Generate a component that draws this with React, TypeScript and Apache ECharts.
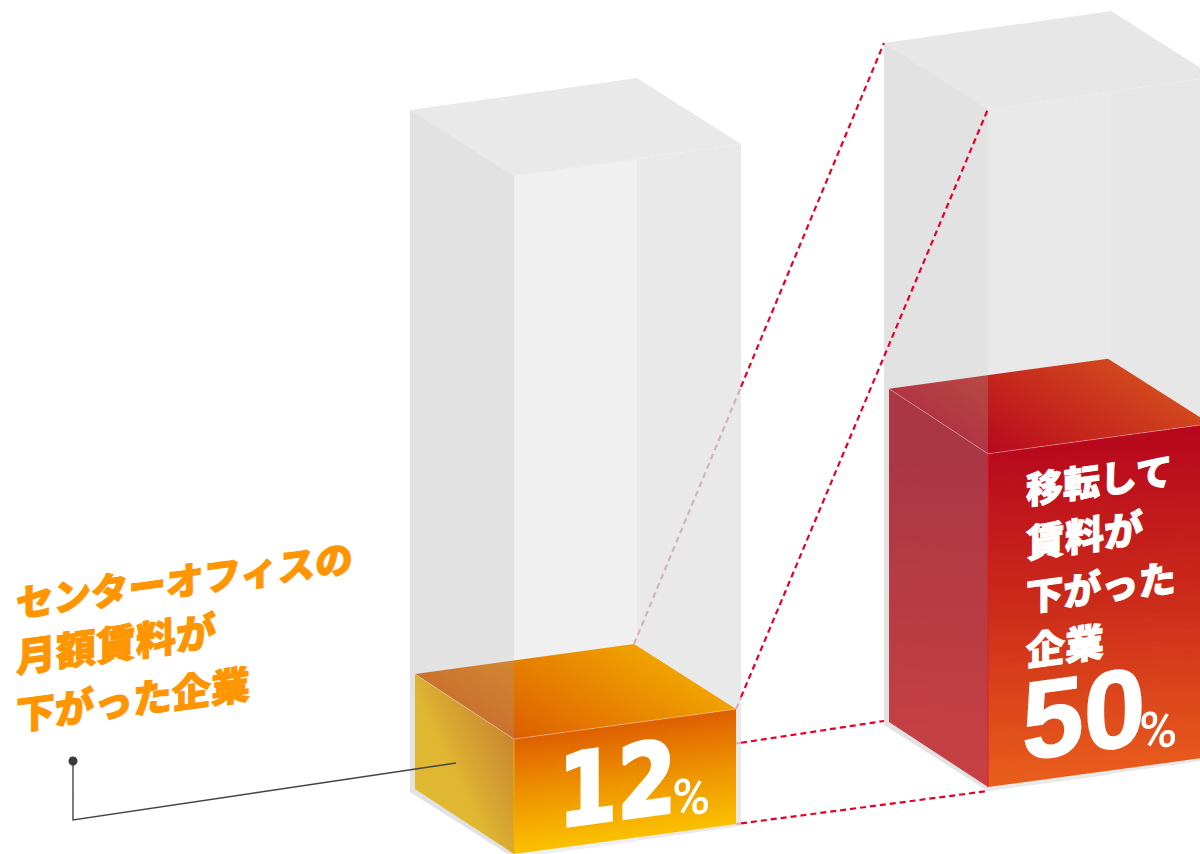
import React, { useEffect, useRef } from "react";
import * as echarts from "echarts";

const categories = ["センターオフィス", "移転"];
const shareValues = [12, 50];
const centerLabelLines = ["センターオフィスの", "月額賃料が", "下がった企業"];
const relocationLabelLines = ["移転して", "賃料が", "下がった", "企業"];
const axisMin = -8;
const axisMax = 110;

// Prism projection, in pixels from a column's front edge.
const GLASS_LEFT = [-104, -66];
const GLASS_RIGHT = [227, -32];
const FILL_LEFT = [-99, -65];
const FILL_RIGHT = [222, -30];
const FILL_BACK = [120, -95];
const GLASS_FOOT = 4;
const SLOPE = 30 / 222;
const LIFT = [0, 67]; // the second column stands further back on the page

const OVERLAY = "rgba(160,160,160,0.3)";
const DASH_RED = "#e60028";
const DASH_PALE = "#d4b4bb";
const FONT_JP = '"Noto Sans CJK JP"';

const COLUMN_STYLES = [
  {
    glassTop: "#e9e9e9",
    glassRight: "#e9e9e9",
    glassCentre: "#f0f0f0",
    frontStops: ["#de5f00", "#ee9400", "#fbc200"],
    topStops: ["#dc5e00", "#f0a200"],
    leftStops: ["#fbc200", "#da7b00"],
    leftVector: [-54, 51, 10, 19],
    edge: "rgba(248,178,0,0.7)",
  },
  {
    glassTop: "#e7e7e7",
    glassRight: "#e7e7e7",
    glassCentre: "#e9e9e9",
    frontStops: ["#b8081d", "#cc2c1a", "#e85c1c"],
    topStops: ["#b8081d", "#d2481e"],
    leftStops: ["#b00a1e", "#da1a1e"],
    leftVector: [0, 0, -20, 334],
    edge: "rgba(226,28,32,0.8)",
  },
];

type Pt = number[];
const add = (p: Pt, d: Pt): Pt => [p[0] + d[0], p[1] + d[1]];

function geometry(api: any, index: number) {
  const lift = LIFT[index];
  const at = (v: number): Pt => {
    const p = api.coord([index, v]);
    return [p[0], p[1] - lift];
  };
  const base = at(axisMin);
  const level = at(shareValues[index]);
  const rim = at(axisMax);
  const foot = [base[0], base[1] + GLASS_FOOT];
  return { base, level, rim, foot };
}

function stops(colours: string[]) {
  return colours.map((color, i) => ({ offset: i / (colours.length - 1), color }));
}

function glide(x0: number, y0: number, x1: number, y1: number, colours: string[]) {
  return new echarts.graphic.LinearGradient(x0, y0, x1, y1, stops(colours), true as any);
}

function poly(points: Pt[], fill: any) {
  return { type: "polygon", shape: { points }, style: { fill } };
}

// Lays text on the prism's right-hand plane: widths stretch by `wide`, verticals stay
// vertical and horizontals climb with SLOPE. Elements only offer rotate and scale, so
// the shear is split into rotate-scale-rotate (singular value decomposition).
function planeText(text: string, x: number, y: number, font: string, fill: string, bold = 0, wide = 1) {
  const a = wide;
  const b = 0;
  const c = -SLOPE * wide;
  const d = 1;
  const E = (a + d) / 2;
  const F = (a - d) / 2;
  const G = (c + b) / 2;
  const H = (c - b) / 2;
  const Q = Math.hypot(E, H);
  const R = Math.hypot(F, G);
  const a1 = Math.atan2(G, F);
  const a2 = Math.atan2(H, E);
  return {
    type: "group",
    x,
    y,
    rotation: -(a2 + a1) / 2,
    scaleX: Q + R,
    scaleY: Q - R,
    children: [
      {
        type: "text",
        rotation: -(a2 - a1) / 2,
        style: { text, font, fill, stroke: bold ? fill : undefined, lineWidth: bold, textAlign: "left", textVerticalAlign: "middle" },
      },
    ],
  };
}

function renderColumn(_: any, api: any) {
  const index = api.value(0) as number;
  const style = COLUMN_STYLES[index];
  const { base, level, rim, foot } = geometry(api, index);
  const value = shareValues[index];

  const gL = add(rim, GLASS_LEFT);
  const gR = add(rim, GLASS_RIGHT);
  const gB = add(gL, GLASS_RIGHT);
  const fgL = add(foot, GLASS_LEFT);
  const fgR = add(foot, GLASS_RIGHT);
  const centreRun = GLASS_RIGHT[0] + GLASS_LEFT[0];
  const centreFoot = add(foot, [centreRun, -SLOPE * centreRun]);
  const centreRim = add(rim, [centreRun, -SLOPE * centreRun]);

  const fL = add(level, FILL_LEFT);
  const fR = add(level, FILL_RIGHT);
  const fB = add(level, FILL_BACK);
  const bL = add(base, FILL_LEFT);
  const bR = add(base, FILL_RIGHT);

  const lv = style.leftVector;
  const children: any[] = [
    poly([rim, gR, fgR, foot], style.glassRight),
    poly([rim, centreRim, centreFoot, foot], style.glassCentre),
    poly([gL, gB, gR, rim], style.glassTop),
    poly([level, fR, bR, base], glide(level[0] + 111, level[1] - 15, level[0] + 126, base[1] - 15, style.frontStops)),
    poly([fL, fB, fR, level], glide(level[0], level[1], level[0] + 77, level[1] - 122, style.topStops)),
    poly([fL, level, base, bL], glide(level[0] + lv[0], level[1] + lv[1], level[0] + lv[2], level[1] + lv[3], style.leftStops)),
    poly([gL, rim, foot, fgL], OVERLAY),
    { type: "polyline", shape: { points: [fL, level, fR] }, style: { fill: "none", stroke: "rgba(255,255,255,0.3)", lineWidth: 1 } },
    { type: "line", shape: { x1: level[0], y1: level[1], x2: base[0], y2: base[1] }, style: { stroke: style.edge, lineWidth: 1.2 } },
  ];

  if (index === 0) {
    children.push(
      planeText(String(value), 558, 793, '700 100px "DejaVu Sans"', "#fff", 3.5, 0.85),
      planeText("%", 672, 800, '500 52px Roboto', "#fff"),
    );
  } else {
    const rows = [488, 541, 595, 649];
    const sizes = [37, 39, 37.5, 39];
    relocationLabelLines.forEach((line, i) => {
      children.push(planeText(line, 1026, rows[i], `900 ${sizes[i]}px ${FONT_JP}`, "#fff", 1));
    });
    children.push(
      planeText(String(value), 1022, 722, '700 111px "Liberation Sans"', "#fff", 1.5),
      planeText("%", 1139, 733, '500 52px Roboto', "#fff"),
    );
  }
  return { type: "group", children };
}

// Dashed guides tying the small column's corners to the tall column.
function renderConnectors(_: any, api: any) {
  const a = geometry(api, 0);
  const b = geometry(api, 1);
  const backTop = add(a.level, FILL_BACK);
  const backFoot = add(a.base, FILL_BACK);
  const guides: Pt[][] = [
    [backTop, add(b.rim, GLASS_LEFT)],
    [add(a.level, FILL_RIGHT), b.rim],
    [backFoot, add(b.base, GLASS_LEFT)],
    [add(a.base, FILL_RIGHT), b.foot],
  ];
  const glassEdge = a.base[0] + GLASS_RIGHT[0];
  const children: any[] = [];
  const dashed = (from: Pt, to: Pt, stroke: string) => ({
    type: "line",
    shape: { x1: from[0], y1: from[1], x2: to[0], y2: to[1] },
    style: { stroke, lineWidth: 2.2, lineDash: [6, 4] },
  });
  guides.forEach(([from, to], i) => {
    const t = (glassEdge - from[0]) / (to[0] - from[0]);
    const split = [glassEdge, from[1] + t * (to[1] - from[1])];
    // The third guide's first corner is hidden, so it only shows from the fill's right edge.
    let start = from;
    if (i === 2) {
      const s = (a.base[0] + FILL_RIGHT[0] - from[0]) / (to[0] - from[0]);
      start = [a.base[0] + FILL_RIGHT[0], from[1] + s * (to[1] - from[1])];
    }
    children.push(dashed(start, split, DASH_PALE), dashed(split, to, DASH_RED));
  });
  return { type: "group", children };
}

export default function App() {
  const ref = useRef<HTMLDivElement>(null);
  useEffect(() => {
    document.body.style.margin = "0";
    const chart = echarts.init(ref.current!, undefined, { renderer: "svg" });
    const headlineSizes = [37.5, 40, 39];
    const headlineY = [601, 655, 713];
    chart.setOption({
      animation: false,
      backgroundColor: "#fff",
      grid: { left: 514, width: 474, top: 176, height: 678 },
      xAxis: { type: "category", boundaryGap: false, data: categories, show: false },
      yAxis: { type: "value", min: axisMin, max: axisMax, show: false },
      graphic: {
        elements: [
          ...centerLabelLines.map((line, i) =>
            planeText(line, 16, headlineY[i], `900 ${headlineSizes[i]}px ${FONT_JP}`, "#ff9500", 1),
          ),
          {
            type: "polyline",
            z: 100,
            shape: { points: [[73, 761], [73, 820], [456, 763]] },
            style: { fill: "none", stroke: "#444", lineWidth: 1.4 },
          },
          { type: "circle", z: 100, shape: { cx: 73, cy: 761, r: 4.5 }, style: { fill: "#3b3b3b" } },
        ],
      },
      series: [
        {
          type: "custom",
          silent: true,
          renderItem: renderColumn,
          encode: { x: 0, y: 1 },
          data: shareValues.map((v, i) => [i, v]),
        },
        {
          type: "custom",
          silent: true,
          renderItem: renderConnectors,
          encode: { x: 0, y: 1 },
          data: [[0, shareValues[0]]],
        },
      ],
    });
    return () => chart.dispose();
  }, []);
  return <div ref={ref} style={{ width: 1200, height: 854 }} />;
}
